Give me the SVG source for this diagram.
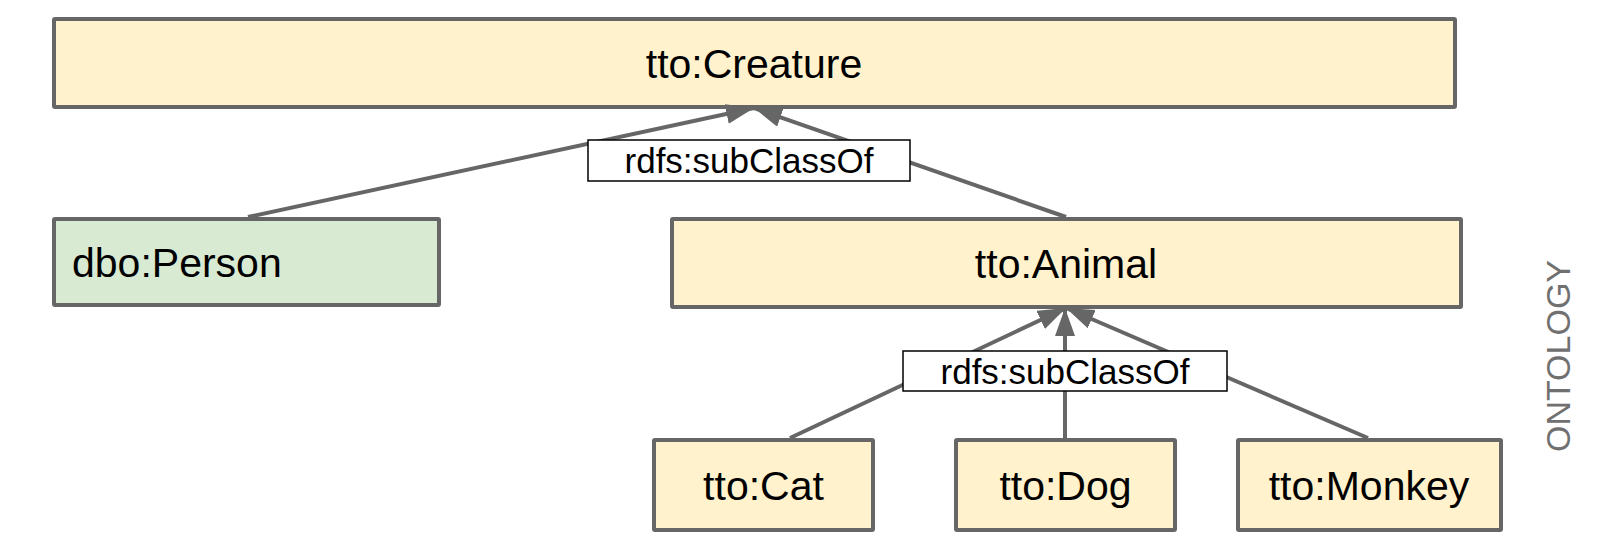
<svg xmlns="http://www.w3.org/2000/svg" width="1612" height="544" viewBox="0 0 1612 544">
<defs>
<style>
.node{stroke:#666666;stroke-width:4;}
.yel{fill:#fff2cc;}
.grn{fill:#d9ead3;}
.nt{font-family:"Liberation Sans",Arial,sans-serif;font-size:41px;fill:#000;}
.lbl{fill:#ffffff;stroke:#000;stroke-width:1.5;}
.lt{font-family:"Liberation Sans",Arial,sans-serif;font-size:35px;fill:#000;text-anchor:middle;}
.edge{stroke:#666666;stroke-width:4;fill:none;marker-end:url(#arr);}
</style>
<marker id="arr" markerUnits="userSpaceOnUse" markerWidth="30" markerHeight="22" refX="28" refY="10" orient="auto" viewBox="0 0 30 22">
<path d="M0,0 L28,10 L0,20 z" fill="#666666"/>
</marker>
</defs>
<rect width="1612" height="544" fill="#ffffff"/>
<g id="creature">
<rect class="node yel" x="54" y="19" width="1401" height="88" rx="1"/>
<text class="nt" x="754" y="78" text-anchor="middle">tto:Creature</text>
</g>
<g id="person">
<rect class="node grn" x="54" y="219" width="385" height="86" rx="1"/>
<text class="nt" x="72" y="277">dbo:Person</text>
</g>
<g id="animal">
<rect class="node yel" x="672" y="219" width="789" height="88" rx="1"/>
<text class="nt" x="1066" y="278" text-anchor="middle">tto:Animal</text>
</g>
<g id="cat">
<rect class="node yel" x="654" y="440" width="219" height="90" rx="1"/>
<text class="nt" x="763.5" y="500" text-anchor="middle">tto:Cat</text>
</g>
<g id="dog">
<rect class="node yel" x="956" y="440" width="219" height="90" rx="1"/>
<text class="nt" x="1065.5" y="500" text-anchor="middle">tto:Dog</text>
</g>
<g id="monkey">
<rect class="node yel" x="1238" y="440" width="263" height="90" rx="1"/>
<text class="nt" x="1369" y="500" text-anchor="middle">tto:Monkey</text>
</g>
<g id="connectors">
<line class="edge" x1="248" y1="217" x2="754" y2="108"/>
<line class="edge" x1="1066" y1="217" x2="754" y2="108"/>
<line class="edge" x1="790" y1="438" x2="1066" y2="308"/>
<line class="edge" x1="1065" y1="438" x2="1065" y2="308"/>
<line class="edge" x1="1368" y1="438" x2="1066" y2="308"/>
<g id="label1">
<rect class="lbl" x="588" y="140" width="322" height="41"/>
<text class="lt" x="749" y="173">rdfs:subClassOf</text>
</g>
<g id="label2">
<rect class="lbl" x="903" y="351" width="324" height="40"/>
<text class="lt" x="1065" y="383.5">rdfs:subClassOf</text>
</g>
</g>
<g id="side-label">
<text x="1570" y="356" transform="rotate(-90 1570 356)" text-anchor="middle" font-family="'Liberation Sans',Arial,sans-serif" font-size="34" fill="#707070">ONTOLOGY</text>
</g>
</svg>
